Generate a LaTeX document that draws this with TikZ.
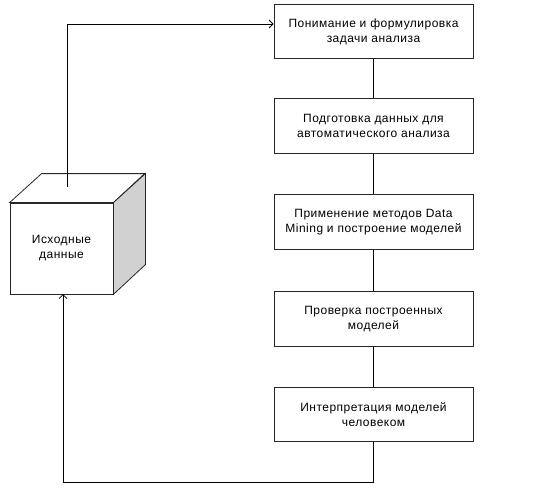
\documentclass[tikz,border=0pt]{standalone}
\usepackage{fontspec}
\setmainfont{Liberation Sans}[LetterSpace=4]
\usetikzlibrary{arrows.meta}
\begin{document}
\begin{tikzpicture}[x=1pt,y=-1pt,
  stage/.style={draw=black!85, line width=0.8pt, minimum width=199pt, minimum height=54.5pt,
     align=center, font=\fontsize{12}{15}\selectfont, inner sep=0pt},
  link/.style={draw=black, line width=0.8pt},
  arr/.style={link, -{Straight Barb[length=4pt,width=8pt,line width=0.8pt]}}]
\useasboundingbox (0,0) rectangle (538,498);
% cube
\node[draw=black!85, line width=0.8pt, minimum width=103pt, minimum height=91pt, inner sep=0pt,
  align=center, font=\fontsize{12}{15}\selectfont] (src) at (61.5,248.5) {Исходные\\данные};
\filldraw[fill=white, draw=black!85, line width=0.8pt] (src.north west) -- ++(32,-29) -- ++(103,0) -- (src.north east) -- cycle;
\filldraw[fill=black!18, draw=black!85, line width=0.8pt] (src.north east) -- ++(32,-29) -- ++(0,91) -- (src.south east) -- cycle;
% stages
\node[stage] (s1) at (373.5,31.5) {Понимание и формулировка\\задачи анализа};
\node[stage] (s2) at (373.5,126) {Подготовка данных для\\автоматического анализа};
\node[stage] (s3) at (373.5,222) {Применение методов Data\\Mining и построение моделей};
\node[stage] (s4) at (373.5,319) {Проверка построенных\\моделей};
\node[stage] (s5) at (373.5,414.5) {Интерпретация моделей\\человеком};
\draw[link] (s1) -- (s2);
\draw[link] (s2) -- (s3);
\draw[link] (s3) -- (s4);
\draw[link] (s4) -- (s5);
% feedback paths
\coordinate (outTop) at (67,187);
\coordinate (inTop) at (s1.west |- 0,24);
\draw[arr] (outTop) -- (67,24) -- (inTop);
\coordinate (bot) at (373.5,482);
\draw[arr] (s5.south) -- (bot) -- (63,482) -- (63,294);
\end{tikzpicture}
\end{document}
